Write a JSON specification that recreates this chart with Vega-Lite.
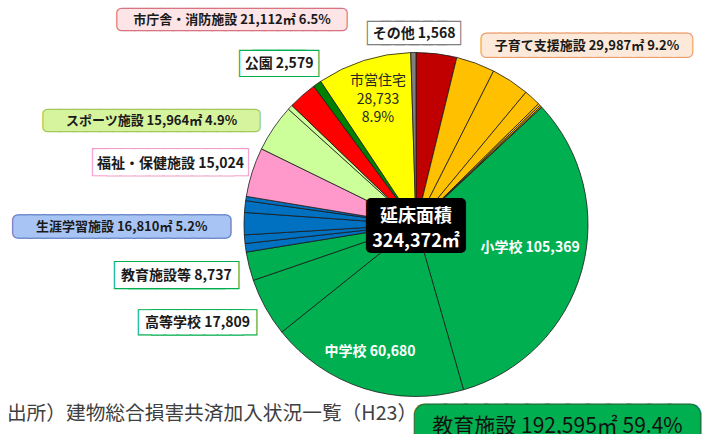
{
  "$schema": "https://vega.github.io/schema/vega-lite/v6.json",
  "width": 572,
  "height": 419,
  "padding": {"left": 130, "top": 15, "right": 0, "bottom": 0},
  "autosize": {"type": "none"},
  "background": "white",
  "config": {"view": {"stroke": null}, "text": {"font": "Noto Sans CJK JP"}},
  "data": {
    "values": [
      {"idx": 1, "key": "cho1", "cat": "市庁舎・消防施設A", "value": 12372},
      {"idx": 2, "key": "kos1", "cat": "子育て支援施設", "value": 11800},
      {"idx": 3, "key": "kos2", "cat": "子育て支援施設", "value": 11620},
      {"idx": 4, "key": "kos3", "cat": "子育て支援施設", "value": 5140, "label": "子育て支援施設 29,987㎡ 9.2%"},
      {"idx": 5, "key": "kos4", "cat": "子育て支援施設", "value": 600},
      {"idx": 6, "key": "kos5", "cat": "子育て支援施設", "value": 500},
      {"idx": 7, "key": "kos6", "cat": "子育て支援施設", "value": 327},
      {"idx": 8, "key": "sho", "cat": "教育施設", "value": 105369, "label": "小学校 105,369", "label2": "教育施設 192,595㎡ 59.4%"},
      {"idx": 9, "key": "chu", "cat": "教育施設", "value": 60680, "label": "中学校 60,680"},
      {"idx": 10, "key": "kou", "cat": "教育施設", "value": 17809, "label": "高等学校 17,809"},
      {"idx": 11, "key": "kyo", "cat": "教育施設", "value": 8737, "label": "教育施設等 8,737"},
      {"idx": 12, "key": "sg1", "cat": "生涯学習施設", "value": 2600},
      {"idx": 13, "key": "sg2", "cat": "生涯学習施設", "value": 2600},
      {"idx": 14, "key": "sg3", "cat": "生涯学習施設", "value": 6750, "label": "生涯学習施設 16,810㎡ 5.2%"},
      {"idx": 15, "key": "sg4", "cat": "生涯学習施設", "value": 3560},
      {"idx": 16, "key": "sg5", "cat": "生涯学習施設", "value": 1300},
      {"idx": 17, "key": "fuk", "cat": "福祉・保健施設", "value": 15024, "label": "福祉・保健施設 15,024"},
      {"idx": 18, "key": "spo1", "cat": "スポーツ施設", "value": 14434, "label": "スポーツ施設 15,964㎡ 4.9%"},
      {"idx": 19, "key": "spo2", "cat": "スポーツ施設", "value": 1530},
      {"idx": 20, "key": "cho2", "cat": "市庁舎・消防施設B", "value": 8740, "label": "市庁舎・消防施設 21,112㎡ 6.5%"},
      {"idx": 21, "key": "park", "cat": "公園", "value": 2579, "label": "公園 2,579"},
      {"idx": 22, "key": "jyu", "cat": "市営住宅", "value": 28733, "label": "市営住宅\n28,733\n8.9%"},
      {"idx": 23, "key": "oth", "cat": "その他", "value": 1568, "label": "その他 1,568"}
    ]
  },
  "encoding": {
    "theta": {"field": "value", "type": "quantitative", "stack": true},
    "order": {"field": "idx", "type": "quantitative", "sort": "ascending"},
    "detail": {"field": "key", "type": "nominal"}
  },
  "layer": [
    {
      "mark": {"type": "arc", "outerRadius": 172, "stroke": "#1a1a1a", "strokeWidth": 0.8},
      "encoding": {
        "color": {
          "field": "cat", "type": "nominal", "legend": null,
          "scale": {
            "domain": ["市庁舎・消防施設A", "子育て支援施設", "教育施設", "生涯学習施設", "福祉・保健施設", "スポーツ施設", "市庁舎・消防施設B", "公園", "市営住宅", "その他"],
            "range": ["#c00000", "#ffc000", "#00b050", "#0070c0", "#ff99cc", "#ccff99", "#ff0000", "#008000", "#ffff00", "#7f7f7f"]
          }
        }
      }
    },
    {
      "mark": {"type": "text", "fontSize": 45, "color": "#000000", "stroke": "#000000", "strokeWidth": 10, "strokeJoin": "round", "dy": 4.6},
      "encoding": {"text": {"condition": {"test": "datum.key === 'cho1'", "value": "██"}, "value": ""}}
    },
    {
      "mark": {"type": "text", "fontSize": 18, "fontWeight": "bold", "color": "#ffffff", "lineBreak": "\n", "lineHeight": 25, "dy": -8},
      "encoding": {"text": {"condition": {"test": "datum.key === 'cho1'", "value": "延床面積\n324,372㎡"}, "value": ""}}
    },
    {
      "mark": {"type": "text", "radius": 148.3, "thetaOffset": 0.0496, "fontSize": 14, "color": "#262626", "lineBreak": "\n", "lineHeight": 18.5},
      "encoding": {"text": {"condition": {"test": "datum.key === 'jyu'", "field": "label", "type": "nominal"}, "value": ""}}
    },
    {
      "mark": {"type": "text", "radius": 116.4, "thetaOffset": -0.0686, "fontSize": 14, "fontWeight": "bold", "color": "#ffffff"},
      "encoding": {"text": {"condition": {"test": "datum.key === 'sho'", "field": "label", "type": "nominal"}, "value": ""}}
    },
    {
      "mark": {"type": "text", "radius": 135.4, "thetaOffset": 0.039, "fontSize": 14, "fontWeight": "bold", "color": "#ffffff"},
      "encoding": {"text": {"condition": {"test": "datum.key === 'chu'", "field": "label", "type": "nominal"}, "value": ""}}
    },

    {
      "mark": {"type": "text", "radius": 275.1, "thetaOffset": -0.011, "fontSize": 13, "color": "#d87482", "stroke": "#d87482", "strokeWidth": 10.5, "strokeJoin": "round"},
      "encoding": {"text": {"condition": {"test": "datum.key === 'cho2'", "value": "█████████████████"}, "value": ""}}
    },
    {
      "mark": {"type": "text", "radius": 275.1, "thetaOffset": -0.011, "fontSize": 13, "color": "#fde4e6", "stroke": "#fde4e6", "strokeWidth": 8, "strokeJoin": "round"},
      "encoding": {"text": {"condition": {"test": "datum.key === 'cho2'", "value": "█████████████████"}, "value": ""}}
    },
    {
      "mark": {"type": "text", "radius": 275.1, "thetaOffset": -0.011, "fontSize": 13, "fontWeight": "bold", "color": "#1a1a1a"},
      "encoding": {"text": {"condition": {"test": "datum.key === 'cho2'", "field": "label", "type": "nominal"}, "value": ""}}
    },

    {
      "mark": {"type": "text", "radius": 190.5, "thetaOffset": 0.005, "fontSize": 14, "color": "#808080", "stroke": "#808080", "strokeWidth": 10.4, "strokeJoin": "miter"},
      "encoding": {"text": {"condition": {"test": "datum.key === 'oth'", "value": "██████"}, "value": ""}}
    },
    {
      "mark": {"type": "text", "radius": 190.5, "thetaOffset": 0.005, "fontSize": 14, "color": "#ffffff", "stroke": "#ffffff", "strokeWidth": 8, "strokeJoin": "miter"},
      "encoding": {"text": {"condition": {"test": "datum.key === 'oth'", "value": "██████"}, "value": ""}}
    },
    {
      "mark": {"type": "text", "radius": 190.5, "thetaOffset": 0.005, "fontSize": 14, "fontWeight": "bold", "color": "#1a1a1a"},
      "encoding": {"text": {"condition": {"test": "datum.key === 'oth'", "field": "label", "type": "nominal"}, "value": ""}}
    },

    {
      "mark": {"type": "text", "radius": 247, "thetaOffset": 0.0216, "fontSize": 13.4, "color": "#eb9b6a", "stroke": "#eb9b6a", "strokeWidth": 12, "strokeJoin": "round"},
      "encoding": {"text": {"condition": {"test": "datum.key === 'kos3'", "value": "███████████████"}, "value": ""}}
    },
    {
      "mark": {"type": "text", "radius": 247, "thetaOffset": 0.0216, "fontSize": 13.4, "color": "#fde9d9", "stroke": "#fde9d9", "strokeWidth": 9.6, "strokeJoin": "round"},
      "encoding": {"text": {"condition": {"test": "datum.key === 'kos3'", "value": "███████████████"}, "value": ""}}
    },
    {
      "mark": {"type": "text", "radius": 247, "thetaOffset": 0.0216, "fontSize": 13, "fontWeight": "bold", "color": "#1a1a1a"},
      "encoding": {"text": {"condition": {"test": "datum.key === 'kos3'", "field": "label", "type": "nominal"}, "value": ""}}
    },

    {
      "mark": {"type": "text", "radius": 211.3, "thetaOffset": -0.0934, "fontSize": 13.25, "color": "#00b050", "stroke": "#00b050", "strokeWidth": 14.15, "strokeJoin": "miter"},
      "encoding": {"text": {"condition": {"test": "datum.key === 'park'", "value": "█████"}, "value": ""}}
    },
    {
      "mark": {"type": "text", "radius": 211.3, "thetaOffset": -0.0934, "fontSize": 13.25, "color": "#ffffff", "stroke": "#ffffff", "strokeWidth": 11.75, "strokeJoin": "miter"},
      "encoding": {"text": {"condition": {"test": "datum.key === 'park'", "value": "█████"}, "value": ""}}
    },
    {
      "mark": {"type": "text", "radius": 211.3, "thetaOffset": -0.0934, "fontSize": 14, "fontWeight": "bold", "color": "#1a1a1a"},
      "encoding": {"text": {"condition": {"test": "datum.key === 'park'", "field": "label", "type": "nominal"}, "value": ""}}
    },

    {
      "mark": {"type": "text", "radius": 284.1, "thetaOffset": -0.2211, "fontSize": 13, "color": "#a2c95a", "stroke": "#a2c95a", "strokeWidth": 10.5, "strokeJoin": "round"},
      "encoding": {"text": {"condition": {"test": "datum.key === 'spo1'", "value": "████████████████"}, "value": ""}}
    },
    {
      "mark": {"type": "text", "radius": 284.1, "thetaOffset": -0.2211, "fontSize": 13, "color": "#d6f39e", "stroke": "#d6f39e", "strokeWidth": 8, "strokeJoin": "round"},
      "encoding": {"text": {"condition": {"test": "datum.key === 'spo1'", "value": "████████████████"}, "value": ""}}
    },
    {
      "mark": {"type": "text", "radius": 284.1, "thetaOffset": -0.2211, "fontSize": 13, "fontWeight": "bold", "color": "#1a1a1a"},
      "encoding": {"text": {"condition": {"test": "datum.key === 'spo1'", "field": "label", "type": "nominal"}, "value": ""}}
    },

    {
      "mark": {"type": "text", "radius": 252.8, "thetaOffset": -0.0686, "fontSize": 14.3, "color": "#f39ac6", "stroke": "#f39ac6", "strokeWidth": 14.1, "strokeJoin": "miter"},
      "encoding": {"text": {"condition": {"test": "datum.key === 'fuk'", "value": "██████████"}, "value": ""}}
    },
    {
      "mark": {"type": "text", "radius": 252.8, "thetaOffset": -0.0686, "fontSize": 14.3, "color": "#ffffff", "stroke": "#ffffff", "strokeWidth": 11.7, "strokeJoin": "miter"},
      "encoding": {"text": {"condition": {"test": "datum.key === 'fuk'", "value": "██████████"}, "value": ""}}
    },
    {
      "mark": {"type": "text", "radius": 252.8, "thetaOffset": -0.0686, "fontSize": 14, "fontWeight": "bold", "color": "#1a1a1a"},
      "encoding": {"text": {"condition": {"test": "datum.key === 'fuk'", "field": "label", "type": "nominal"}, "value": ""}}
    },

    {
      "mark": {"type": "text", "radius": 294.3, "thetaOffset": -0.0145, "fontSize": 13, "color": "#5b7cc4", "stroke": "#5b7cc4", "strokeWidth": 11.5, "strokeJoin": "round"},
      "encoding": {"text": {"condition": {"test": "datum.key === 'sg3'", "value": "████████████████"}, "value": ""}}
    },
    {
      "mark": {"type": "text", "radius": 294.3, "thetaOffset": -0.0145, "fontSize": 13, "color": "#a8c4f4", "stroke": "#a8c4f4", "strokeWidth": 9, "strokeJoin": "round"},
      "encoding": {"text": {"condition": {"test": "datum.key === 'sg3'", "value": "████████████████"}, "value": ""}}
    },
    {
      "mark": {"type": "text", "radius": 294.3, "thetaOffset": -0.0145, "fontSize": 13, "fontWeight": "bold", "color": "#1a1a1a"},
      "encoding": {"text": {"condition": {"test": "datum.key === 'sg3'", "field": "label", "type": "nominal"}, "value": ""}}
    },

    {
      "mark": {"type": "text", "radius": 245, "thetaOffset": 0.0337, "fontSize": 13.9, "color": "#00b050", "stroke": "#00b050", "strokeWidth": 14.5, "strokeJoin": "miter"},
      "encoding": {"text": {"condition": {"test": "datum.key === 'kyo'", "value": "████████"}, "value": ""}}
    },
    {
      "mark": {"type": "text", "radius": 245, "thetaOffset": 0.0337, "fontSize": 13.9, "color": "#ffffff", "stroke": "#ffffff", "strokeWidth": 12.1, "strokeJoin": "miter"},
      "encoding": {"text": {"condition": {"test": "datum.key === 'kyo'", "value": "████████"}, "value": ""}}
    },
    {
      "mark": {"type": "text", "radius": 245, "thetaOffset": 0.0337, "fontSize": 14, "fontWeight": "bold", "color": "#1a1a1a"},
      "encoding": {"text": {"condition": {"test": "datum.key === 'kyo'", "field": "label", "type": "nominal"}, "value": ""}}
    },

    {
      "mark": {"type": "text", "radius": 239.7, "thetaOffset": 0.0791, "fontSize": 13.3, "color": "#00b050", "stroke": "#00b050", "strokeWidth": 13.1, "strokeJoin": "miter"},
      "encoding": {"text": {"condition": {"test": "datum.key === 'kou'", "value": "████████"}, "value": ""}}
    },
    {
      "mark": {"type": "text", "radius": 239.7, "thetaOffset": 0.0791, "fontSize": 13.3, "color": "#ffffff", "stroke": "#ffffff", "strokeWidth": 10.7, "strokeJoin": "miter"},
      "encoding": {"text": {"condition": {"test": "datum.key === 'kou'", "value": "████████"}, "value": ""}}
    },
    {
      "mark": {"type": "text", "radius": 239.7, "thetaOffset": 0.0791, "fontSize": 14, "fontWeight": "bold", "color": "#1a1a1a"},
      "encoding": {"text": {"condition": {"test": "datum.key === 'kou'", "field": "label", "type": "nominal"}, "value": ""}}
    },

    {
      "mark": {"type": "text", "radius": 246.8, "thetaOffset": 0.69, "fontSize": 20.4, "color": "#1f7a3e", "stroke": "#1f7a3e", "strokeWidth": 22.6, "strokeJoin": "round"},
      "encoding": {"text": {"condition": {"test": "datum.key === 'sho'", "value": "█████████████"}, "value": ""}}
    },
    {
      "mark": {"type": "text", "radius": 246.8, "thetaOffset": 0.69, "fontSize": 20.4, "color": "#00b050", "stroke": "#00b050", "strokeWidth": 19.6, "strokeJoin": "round"},
      "encoding": {"text": {"condition": {"test": "datum.key === 'sho'", "value": "█████████████"}, "value": ""}}
    },
    {
      "mark": {"type": "text", "radius": 246.8, "thetaOffset": 0.69, "fontSize": 21, "color": "#111111"},
      "encoding": {"text": {"condition": {"test": "datum.key === 'sho'", "field": "label2", "type": "nominal"}, "value": ""}}
    },

    {
      "mark": {"type": "text", "radius": 451, "thetaOffset": 0.8285, "align": "left", "fontSize": 19.7, "color": "#404040"},
      "encoding": {"text": {"condition": {"test": "datum.key === 'chu'", "value": "出所）建物総合損害共済加入状況一覧（H23）"}, "value": ""}}
    }
  ]
}
